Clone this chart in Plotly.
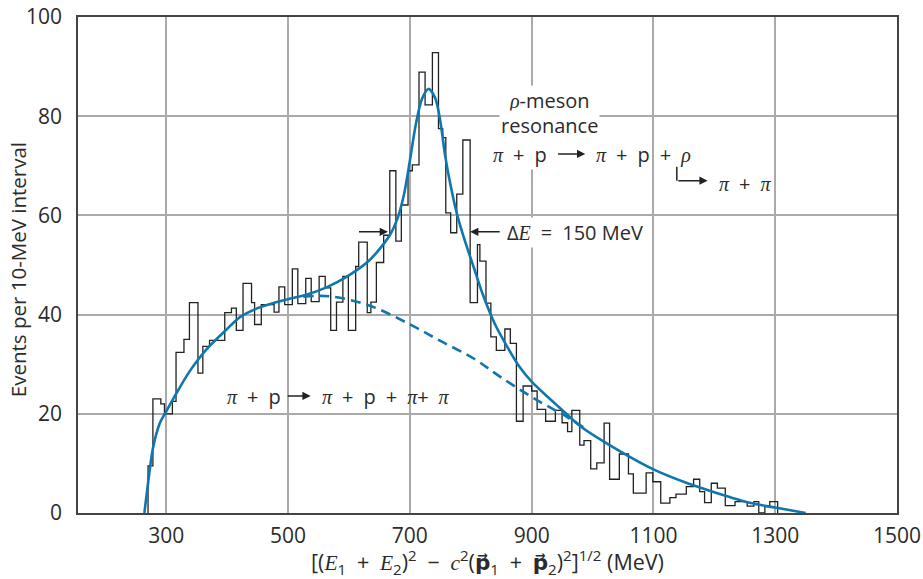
import plotly.graph_objects as go

# ---------------- data ----------------
# histogram: left edges of each step (MeV) + final right edge, and counts
hist_edges = [270, 278, 291, 297, 310, 316, 329, 338, 352, 360, 371, 396, 407, 415,
              426, 440, 445, 456, 477, 485, 494.5, 507, 516, 529, 538, 551, 561, 570,
              579.5, 590, 599, 611, 616, 630, 636, 645, 657, 667, 677, 686, 697, 704,
              715, 725, 737, 747, 754, 759, 767, 777, 787, 799, 811, 815, 825, 833,
              842, 856, 865, 875, 886, 900, 909, 923, 939, 950, 959, 966, 979, 986,
              997, 1007, 1019, 1028, 1044, 1059, 1067, 1088, 1099, 1112, 1127, 1137,
              1154, 1166, 1176, 1184, 1195, 1205, 1218, 1234, 1254, 1265, 1273, 1283,
              1291, 1304]
hist_counts = [9.5, 23, 22, 20, 22.5, 32.4, 35, 42.4, 28.2, 33.6, 34.8, 40.4, 41.3, 36.8,
               46.3, 42.4, 38, 42, 40.5, 45.6, 42, 49.2, 42.2, 47.3, 42.6, 47.7, 45.4, 36.8,
               42.5, 47.7, 36.8, 49.7, 54.6, 40.4, 42.5, 50.5, 56, 69, 54.8, 62.1, 69, 70.2,
               88.9, 82.3, 92.8, 77.5, 75.7, 60.5, 56.5, 64.3, 75.2, 42.4, 54.1, 50.8, 42.3,
               35.5, 32.8, 37.1, 34.2, 18.5, 25.6, 24.6, 20.9, 18.5, 20.7, 18.2, 16.4, 20.7,
               13.7, 14.6, 8.9, 10.1, 18.1, 6.8, 11.9, 7.9, 4, 8.1, 6.3, 2, 3.1, 3.8,
               5.3, 6.8, 4.3, 2.1, 6, 5, 1.5, 2.3, 1.4, 2.3, 0, 1.3, 2.3]

# fitted curve (resonance + background)
fit_x = [264, 267, 270, 278, 289, 300, 316, 338, 366, 399, 421, 450, 475, 500, 530, 563,
         596, 634, 667, 680, 690, 700, 710, 720, 731, 742, 750, 758, 767, 778,
         790, 805, 820, 840, 860, 880, 900, 939, 980, 1024, 1100, 1156, 1200, 1260,
         1300, 1350]
fit_y = [0, 3, 6, 13, 18, 20.5, 24, 28.5, 33, 37, 39.5, 41.3, 42.3, 43.1, 44, 45.5,
         47.6, 51, 56, 59.5, 64, 71, 78.5, 83.5, 85.5, 83.5, 79, 72, 66, 60,
         55, 49.5, 44, 38, 33.5, 29.5, 26.5, 22, 17.5, 14, 8.8, 6, 4.2, 2,
         1.1, 0]

# background only (dashed)
bg_x = [525, 568, 634, 699, 750, 804, 848, 904, 959, 992]
bg_y = [43.6, 43.7, 41.8, 38.1, 34.7, 31.2, 27.5, 23.1, 19.3, 16.7]

x_ticks = [300, 500, 700, 900, 1100, 1300, 1500]
y_ticks = [0, 20, 40, 60, 80, 100]

# ---------------- figure ----------------
BLUE = "#0f77ad"
FONT = "Open Sans, Liberation Sans, sans-serif"
SERIF = "Liberation Serif, DejaVu Serif, serif"
TXT = "#2b2b2b"
SP = "\u2002"  # wider space around operators

hx = [hist_edges[0]] + hist_edges
hy = [0] + hist_counts + [0]

fig = go.Figure()
fig.add_trace(go.Scatter(x=hx, y=hy, mode="lines", line=dict(shape="hv", color="#222", width=1.3),
                         hoverinfo="skip", showlegend=False))
fig.add_trace(go.Scatter(x=bg_x, y=bg_y, mode="lines",
                         line=dict(shape="spline", color=BLUE, width=2.6, dash="10px,6px"),
                         showlegend=False))
fig.add_trace(go.Scatter(x=fit_x, y=fit_y, mode="lines",
                         line=dict(shape="spline", smoothing=0.8, color=BLUE, width=2.6),
                         showlegend=False))


def pi():
    return f"<span style='font-family:{SERIF}'><i>π</i></span>"


def it(s):
    return f"<span style='font-family:{SERIF}'><i>{s}</i></span>"


PL = f"{SP}+{SP}"

ann = []
tf = dict(family=FONT, size=20, color=TXT)
ann.append(dict(x=928.5, y=83.1, text=f"{it('ρ')}-meson", showarrow=False, font=tf,
                bgcolor="white", xanchor="center", yanchor="middle", borderpad=1))
ann.append(dict(x=928.5, y=78.2, text="resonance", showarrow=False, font=tf,
                bgcolor="white", xanchor="center", yanchor="middle", borderpad=1))
ann.append(dict(x=880.8, y=72.2, text=f"{pi()}{PL}p", showarrow=False, font=tf,
                bgcolor="white", xanchor="center", yanchor="middle", borderpad=1))
ann.append(dict(x=988, y=72.4, ax=941, ay=72.4, axref="x", ayref="y", text="", showarrow=True,
                arrowhead=2, arrowsize=1.1, arrowwidth=1.5, arrowcolor="#222"))
ann.append(dict(x=1003, y=72.2, text=f"{pi()}{PL}p{PL}{it('ρ')}", showarrow=False, font=tf,
                xanchor="left", yanchor="middle"))
ann.append(dict(x=1189, y=67.0, ax=1138.4, ay=67.0, axref="x", ayref="y", text="",
                showarrow=True, arrowhead=2, arrowsize=1.1, arrowwidth=1.5, arrowcolor="#222"))
ann.append(dict(x=1204, y=66.5, text=f"{pi()}{PL}{pi()}", showarrow=False, font=tf,
                xanchor="left", yanchor="middle"))
ann.append(dict(x=856, y=56.6, text=f"Δ{it('E')}{SP}={SP}150 MeV", showarrow=False, font=tf,
                xanchor="left", yanchor="middle", bgcolor="white", borderpad=1))
ann.append(dict(x=799, y=56.7, ax=850, ay=56.7, axref="x", ayref="y", text="",
                showarrow=True, arrowhead=2, arrowsize=1.1, arrowwidth=1.5, arrowcolor="#222"))
ann.append(dict(x=664, y=56.7, ax=614, ay=56.7, axref="x", ayref="y", text="",
                showarrow=True, arrowhead=2, arrowsize=1.1, arrowwidth=1.5, arrowcolor="#222"))
ann.append(dict(x=397, y=23.4, text=f"{pi()}{PL}p", showarrow=False, font=tf,
                xanchor="left", yanchor="middle"))
ann.append(dict(x=537, y=23.6, ax=497, ay=23.6, axref="x", ayref="y", text="",
                showarrow=True, arrowhead=2, arrowsize=1.1, arrowwidth=1.5, arrowcolor="#222"))
ann.append(dict(x=552, y=23.4, text=f"{pi()}{PL}p{PL}{pi()}+{SP}{pi()}", showarrow=False,
                font=tf, xanchor="left", yanchor="middle"))
# axis titles
ann.append(dict(x=-0.073, y=0.49, xref="paper", yref="paper", textangle=-90,
                text="Events per 10-MeV interval", showarrow=False,
                font=dict(family=FONT, size=20.5, color=TXT),
                xanchor="center", yanchor="middle"))
pv = "<span style='font-family:DejaVu Sans'><b>p⃗</b></span>"
xt = (f"[({it('E')}<sub>1</sub>{PL}{it('E')}<sub>2</sub>)<sup>2</sup>{SP}−{SP}{it('c')}<sup>2</sup>"
      f"({pv}<sub>1</sub>{PL}{pv}<sub>2</sub>)<sup>2</sup>]<sup>1/2</sup> (MeV)")
ann.append(dict(x=0.5, y=-0.098, xref="paper", yref="paper", text=xt, showarrow=False,
                font=dict(family=FONT, size=21.5, color=TXT), xanchor="center", yanchor="middle"))

shapes = [dict(type="line", xref="x", yref="y", x0=1138.4, x1=1138.4, y0=69.8, y1=67.0,
               line=dict(color="#222", width=1.5))]

fig.update_layout(
    width=923, height=579,
    margin=dict(l=78, r=26, t=17, b=66, autoexpand=False),
    paper_bgcolor="white", plot_bgcolor="white",
    font=dict(family=FONT, size=20, color=TXT),
    annotations=ann, shapes=shapes,
    xaxis=dict(range=[155, 1500], tickvals=x_ticks, ticks="", showgrid=True,
               gridcolor="#aaaaaa", gridwidth=1.5, zeroline=False, showline=True,
               linecolor="#444", linewidth=1.5, mirror=True, ticklabelstandoff=3,
               automargin=False, tickfont=dict(family=FONT, size=21, color=TXT)),
    yaxis=dict(range=[0, 100], tickvals=y_ticks, ticks="", showgrid=True,
               gridcolor="#aaaaaa", gridwidth=1.5, zeroline=False, showline=True,
               linecolor="#444", linewidth=1.5, mirror=True, ticklabelstandoff=10,
               automargin=False, tickfont=dict(family=FONT, size=21, color=TXT)),
)

fig.write_html("out.html", config={"displayModeBar": False},
               post_script="document.body.style.margin='0px';document.body.style.overflow='hidden';")
